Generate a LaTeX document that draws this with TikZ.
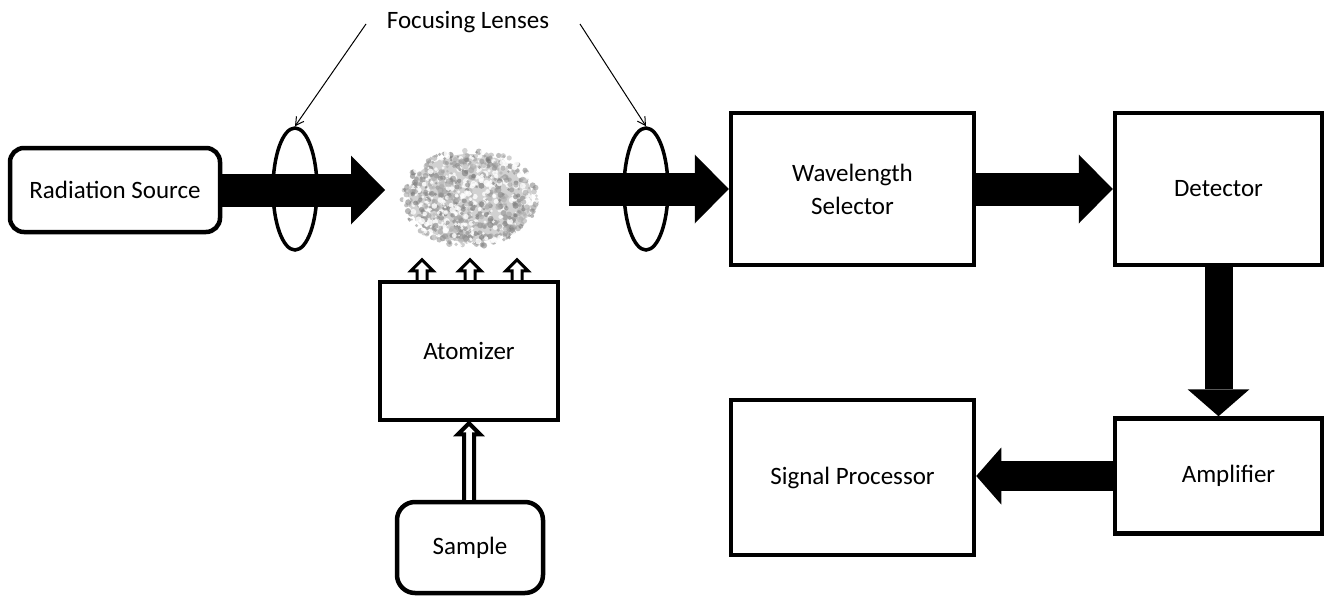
\documentclass[tikz,border=0pt]{standalone}
\usepackage{fontspec}
\setmainfont{Carlito}
\usetikzlibrary{arrows.meta,shapes.geometric,calc}
\begin{document}
\begin{tikzpicture}[x=1pt,y=-1pt,
  txt/.style={font=\fontsize{25}{33}\selectfont, align=center, text=black},
  box/.style={draw, line width=4.5pt, inner sep=0pt, txt},
  rbox/.style={box, rounded corners=14pt},
  lens/.style={draw, ellipse, line width=3.5pt, minimum width=44pt, minimum height=122pt, inner sep=0pt},
  fat/.style={line width=33pt, line cap=butt, -{Triangle[width=69pt,length=34pt,line width=0pt]}},
  pointer/.style={line width=1pt, -{Straight Barb[length=8pt,width=9pt]}},
  hollow/.style={draw, line width=3pt, fill=white, line join=miter}]
\useasboundingbox (0,0) rectangle (1325,602);
\fill[white] (0,0) rectangle (1325,602);

% cloud
\coordinate (cloud) at (470,198);
\pgfmathsetseed{7}
\fill[black!18] (cloud) ellipse[x radius=62pt, y radius=44pt];
\foreach \i in {1,...,900}{
  \pgfmathsetmacro\ang{rnd*360}
  \pgfmathsetmacro\rr{sqrt(rnd)}
  \pgfmathsetmacro\cx{470+68*\rr*cos(\ang)}
  \pgfmathsetmacro\cy{198+49*\rr*sin(\ang)}
  \pgfmathtruncatemacro\sh{int(rnd*100)}
  \pgfmathsetmacro\rad{1.2+2*rnd}
  \ifnum\sh<33
    \fill[white, opacity=0.8] (\cx,\cy) circle[radius=\rad pt];
  \else
    \pgfmathtruncatemacro\gg{15+0.4*\sh}
    \fill[black!\gg, opacity=0.6] (\cx,\cy) circle[radius=\rad pt];
  \fi
}

% boxes
\node[rbox, minimum width=210pt, minimum height=84pt] (rs) at (115,190) {Radiation Source};
\node[box, minimum width=243pt, minimum height=152pt] (ws) at (852.5,189) {Wavelength\\Selector};
\node[box, minimum width=207pt, minimum height=152pt] (det) at (1218.5,189) {\raisebox{-3pt}{Detector}};
\node[box, minimum width=207pt, minimum height=115pt] (amp) at (1218.5,476) {\hspace*{20pt}Amplifier};
\node[box, minimum width=243pt, minimum height=155pt] (sp) at (852.5,477.5) {Signal Processor};
\node[box, minimum width=178pt, minimum height=138pt] (atom) at (469,351) {Atomizer};
\node[rbox, rounded corners=18pt, minimum width=146pt, minimum height=91pt] (sample) at (470,547.5) {Sample};

% lenses
\node[lens] (lens1) at (295,189) {};
\node[lens] (lens2) at (646,189) {};

% thick arrows
\coordinate (a1) at (385,190);
\coordinate (a2) at (569,189);
\draw[fat] (rs.east) -- (a1);
\draw[fat] (a2) -- (ws.west);
\draw[fat] (ws.east) -- (det.west);
\draw[fat, line width=28pt, -{Triangle[width=62pt,length=27pt,line width=0pt]}] (det.south) -- (amp.north);
\draw[fat, line width=30pt, -{Triangle[width=57pt,length=25pt,line width=0pt]}] (amp.west) -- (amp.west -| sp.east);

% label and pointers
\node[txt] (fl) at (468,22) {Focusing Lenses};
\coordinate (p1) at (366,24);
\coordinate (p2) at (580,24);
\draw[pointer] (p1) -- (lens1.north);
\draw[pointer] (p2) -- (lens2.north);

% small hollow arrows from atomizer to cloud
\foreach \dx in {-47,1,48}{
  \draw[hollow] ($(atom.north)+(\dx-5,0)$) -- ($(atom.north)+(\dx-5,-9)$) -- ($(atom.north)+(\dx-11,-9)$)
    -- ($(atom.north)+(\dx,-20)$) -- ($(atom.north)+(\dx+11,-9)$) -- ($(atom.north)+(\dx+5,-9)$) -- ($(atom.north)+(\dx+5,0)$);
}

% sample -> atomizer hollow arrow
\draw[hollow, line width=4pt] ($(atom.south |- sample.north)+(-5,0)$) -- ($(atom.south)+(-5,12)$) -- ($(atom.south)+(-11,12)$)
  -- ($(atom.south)+(0,1)$) -- ($(atom.south)+(11,12)$) -- ($(atom.south)+(5,12)$) -- ($(atom.south |- sample.north)+(5,0)$);
\end{tikzpicture}
\end{document}
